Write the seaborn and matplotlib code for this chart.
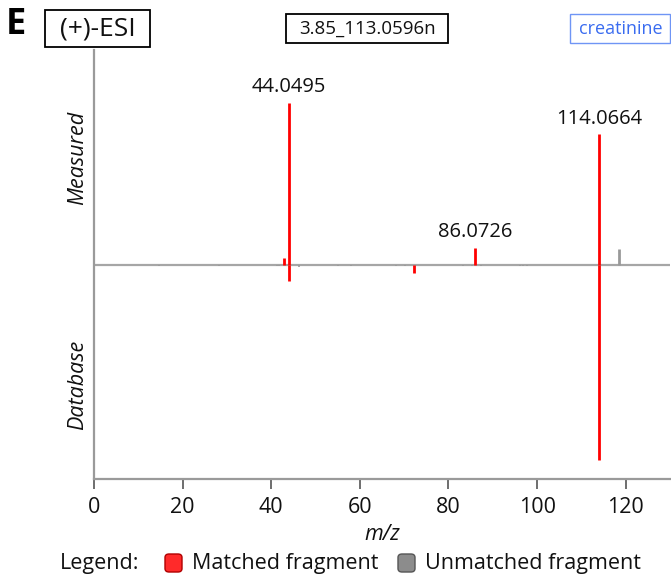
import matplotlib
matplotlib.use("Agg")
import matplotlib.pyplot as plt
from matplotlib.patches import FancyBboxPatch, Rectangle
import seaborn as sns
import pandas as pd

# ---- data ----
meas_mz = [42.95, 44.0495, 86.0726, 114.0664, 118.5]
meas_int = [3.1, 83.0, 8.7, 66.7, 7.7]
meas_matched = [True, True, True, True, False]

db_mz = [44.0495, 72.2, 114.0664]
db_int = [8.7, 4.6, 100.0]

noise_mz = [14.7, 28.2, 41.3, 41.8, 46.3, 55.1, 58.0, 68.2, 70.2, 83.3, 85.3, 87.4, 96.2, 96.8, 97.7]
noise_int = [0.9, 0.9, 1.0, 1.0, 1.2, 0.9, 0.9, 0.8, 0.9, 0.8, 0.9, 1.0, 0.9, 1.0, 1.0]

labels_mz = [44.0495, 86.0726, 114.0664]
labels_txt = ["44.0495", "86.0726", "114.0664"]
labels_y = [83.0, 8.7, 66.7]

xticks = [0, 20, 40, 60, 80, 100, 120]

sns.set_theme(style="white")
plt.rcParams['font.family'] = ['Open Sans', 'DejaVu Sans']

RED = "#ff0000"
GREY = "#999999"
W, H = 671, 576

fig = plt.figure(figsize=(6.71, 5.76), dpi=100)
ax = fig.add_axes([94/W, 1-479/H, (670-94)/W, (479-50)/H])

meas = pd.DataFrame({"mz": meas_mz, "int": meas_int, "matched": meas_matched})
db = pd.DataFrame({"mz": db_mz, "int": db_int})
noise = pd.DataFrame({"mz": noise_mz, "int": noise_int})

ax.axhline(0, color="#a6a6a6", lw=1.6, zorder=1)
ax.vlines(noise["mz"], 0, -noise["int"], color=GREY, lw=1.2, zorder=2)
for m, i, ok in zip(meas["mz"], meas["int"], meas["matched"]):
    ax.vlines(m, 0, i, color=RED if ok else GREY, lw=2.0, zorder=3)
ax.vlines(db["mz"], 0, -db["int"], color=RED, lw=2.0, zorder=3)

for m, t, y in zip(labels_mz, labels_txt, labels_y):
    ax.annotate(t, (m, y), xytext=(0, 4), textcoords="offset points",
                ha="center", va="bottom", fontsize=14.5, color="#111111")

ax.set_xlim(0, 130)
ax.set_ylim(-110, 110)
ax.set_xticks(xticks)
ax.set_xticklabels([str(v) for v in xticks], fontsize=15.5)
ax.set_yticks([])
for s in ["top", "right"]:
    ax.spines[s].set_visible(False)
for s in ["left", "bottom"]:
    ax.spines[s].set_color("#9a9a9a")
    ax.spines[s].set_linewidth(1.6)
ax.tick_params(axis="x", bottom=True, length=7, width=1.2, color="#555555", pad=6, labelcolor="#111111")
ax.set_xlabel("m/z", fontsize=15.5, style="italic", labelpad=4, color="#111111")

fig.text(78/W, 1-158/H, "Measured", rotation=90, ha="center", va="center",
         fontsize=15.5, style="italic", color="#111111")
fig.text(78/W, 1-385/H, "Database", rotation=90, ha="center", va="center",
         fontsize=15.5, style="italic", color="#111111")

# header
fig.text(6/W, 1-25/H, "E", fontsize=26, fontweight="bold", ha="left", va="center", color="black")

def box(x0, y0, x1, y1, ec, lw):
    r = Rectangle((x0/W, 1-y1/H), (x1-x0)/W, (y1-y0)/H, transform=fig.transFigure,
                  fc="white", ec=ec, lw=lw)
    fig.patches.append(r)

box(45, 10, 150, 47, "black", 1.3)
fig.text(97.5/W, 1-29/H, "(+)-ESI", fontsize=19, ha="center", va="center", color="#111111")
box(286, 14, 448, 43, "black", 1.3)
fig.text(367/W, 1-29/H, "3.85_113.0596n", fontsize=13.5, ha="center", va="center", color="#111111")
box(570, 14, 670, 43, "#6f95f5", 1.0)
fig.text(621/W, 1-29/H, "creatinine", fontsize=13, ha="center", va="center", color="#3a6cf0")

# legend
ly = 1-563/H
fig.text(60/W, ly, "Legend:", fontsize=15.5, ha="left", va="center", color="#111111")
for x0, fc, ec, txt in [(165, "#ff2a2a", "#b00000", "Matched fragment"),
                        (398, "#8c8c8c", "#555555", "Unmatched fragment")]:
    p = FancyBboxPatch((x0/W, ly-9/H), 17/W, 18/H,
                       boxstyle="round,pad=0,rounding_size=0.006",
                       transform=fig.transFigure, fc=fc, ec=ec, lw=1.0)
    fig.patches.append(p)
    fig.text((x0+27)/W, ly, txt, fontsize=15.5, ha="left", va="center", color="#111111")

fig.savefig("out.png", dpi=100)
